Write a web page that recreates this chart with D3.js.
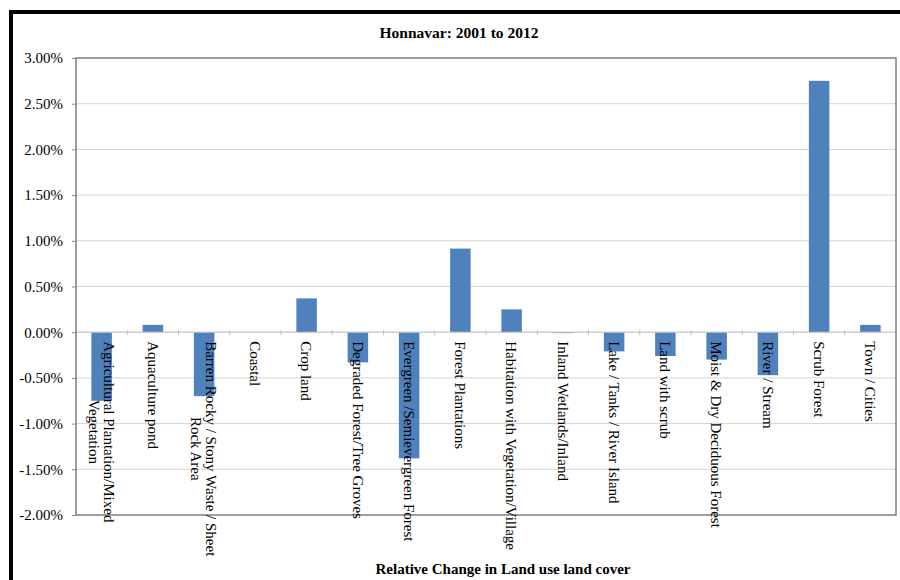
<!DOCTYPE html>
<html>
<head>
<meta charset="utf-8">
<script src="https://cdn.jsdelivr.net/npm/d3@7"></script>
<style>
  body { margin: 0; background: #fff; }
  svg text { font-family: "Liberation Serif", "Times New Roman", serif; fill: #000; }
</style>
</head>
<body>
<svg id="chart"></svg>
<script>
const categories = [
  ["Agricultural Plantation/Mixed", "Vegetation"],
  ["Aquaculture pond"],
  ["Barren Rocky / Stony Waste / Sheet", "Rock Area"],
  ["Coastal"],
  ["Crop land"],
  ["Degraded Forest/Tree Groves"],
  ["Evergreen /Semievergreen Forest"],
  ["Forest Plantations"],
  ["Habitation with Vegetation/Village"],
  ["Inland Wetlands/Inland"],
  ["Lake / Tanks / River Island"],
  ["Land with scrub"],
  ["Moist & Dry Deciduous Forest"],
  ["River / Stream"],
  ["Scrub Forest"],
  ["Town / Cities"]
];
const values = [-0.75, 0.08, -0.70, 0, 0.37, -0.33, -1.38, 0.915, 0.25, -0.01, -0.21, -0.26, -0.30, -0.47, 2.75, 0.08];
const yTicks = [3, 2.5, 2, 1.5, 1, 0.5, 0, -0.5, -1, -1.5, -2];

const width = 900;
const height = 580;
const plot = { left: 76, right: 896, top: 58, bottom: 515 };

const svg = d3.select("#chart")
  .attr("width", width)
  .attr("height", height);

// Outer frame (black, top and left)
svg.append("line")
  .attr("x1", 9).attr("x2", 900).attr("y1", 12).attr("y2", 12)
  .attr("stroke", "#000").attr("stroke-width", 4);
svg.append("line")
  .attr("x1", 11).attr("x2", 11).attr("y1", 10).attr("y2", 580)
  .attr("stroke", "#000").attr("stroke-width", 4);

const x = d3.scaleBand()
  .domain(d3.range(categories.length))
  .range([plot.left, plot.right]);

const y = d3.scaleLinear()
  .domain([-2, 3])
  .range([plot.bottom, plot.top]);

// Gridlines
svg.append("g")
  .selectAll("line")
  .data(yTicks.filter(d => d !== 3 && d !== -2))
  .enter()
  .append("line")
  .attr("x1", plot.left).attr("x2", plot.right)
  .attr("y1", d => y(d)).attr("y2", d => y(d))
  .attr("stroke", "#d4d4d4");

// Y axis
const yAxis = svg.append("g")
  .attr("transform", `translate(${plot.left},0)`)
  .call(d3.axisLeft(y).tickValues(yTicks).tickSize(4).tickPadding(9)
    .tickFormat(d => d.toFixed(2) + "%"));
yAxis.select(".domain").remove();
yAxis.selectAll(".tick line").attr("stroke", "#888");
yAxis.selectAll(".tick text")
  .style("font-family", "'Liberation Serif', serif")
  .style("font-size", "15px");

// Bars
svg.append("g")
  .selectAll("rect")
  .data(values)
  .enter()
  .append("rect")
  .attr("x", (d, i) => x(i) + x.bandwidth() * 0.3)
  .attr("width", x.bandwidth() * 0.4)
  .attr("y", d => y(Math.max(0, d)))
  .attr("height", d => Math.abs(y(d) - y(0)))
  .attr("fill", "#4f81bd");

// Zero line and category ticks
svg.append("line")
  .attr("x1", plot.left).attr("x2", plot.right)
  .attr("y1", y(0)).attr("y2", y(0))
  .attr("stroke", "#c8c8c8");
svg.append("g")
  .selectAll("line")
  .data(d3.range(1, categories.length))
  .enter()
  .append("line")
  .attr("x1", d => x(d)).attr("x2", d => x(d))
  .attr("y1", y(0) - 2).attr("y2", y(0) + 3)
  .attr("stroke", "#c0c0c0");

// Plot frame
svg.append("rect")
  .attr("x", plot.left).attr("y", plot.top)
  .attr("width", plot.right - plot.left)
  .attr("height", plot.bottom - plot.top)
  .attr("fill", "none")
  .attr("stroke", "#7f7f7f")
  .attr("stroke-width", 1.5);

// Category labels (rotated, lines centred on each other, block starts under the axis)
const lineH = 15;
const labels = svg.append("g")
  .selectAll("g")
  .data(categories)
  .enter()
  .append("g")
  .attr("transform", (d, i) => `translate(${x(i) + x.bandwidth() / 2},${y(0) + 9}) rotate(90)`);

const labelText = labels.append("text")
  .style("font-size", "15px")
  .attr("text-anchor", "middle");

labelText.selectAll("tspan")
  .data(d => d.map((t, k) => ({ t, k, n: d.length })))
  .enter()
  .append("tspan")
  .attr("y", d => (d.k - (d.n - 1) / 2) * lineH)
  .attr("dy", "0.35em")
  .text(d => d.t);

labelText.each(function() {
  const spans = d3.select(this).selectAll("tspan");
  let maxLen = 0;
  spans.each(function() { maxLen = Math.max(maxLen, this.getComputedTextLength()); });
  spans.attr("x", maxLen / 2);
});

// Titles
svg.append("text")
  .attr("x", 459).attr("y", 38)
  .attr("text-anchor", "middle")
  .style("font-size", "15.5px")
  .style("font-weight", "bold")
  .text("Honnavar: 2001 to 2012");

svg.append("text")
  .attr("x", 503).attr("y", 574)
  .attr("text-anchor", "middle")
  .style("font-size", "15px")
  .style("font-weight", "bold")
  .text("Relative Change in Land use land cover");
</script>
</body>
</html>
